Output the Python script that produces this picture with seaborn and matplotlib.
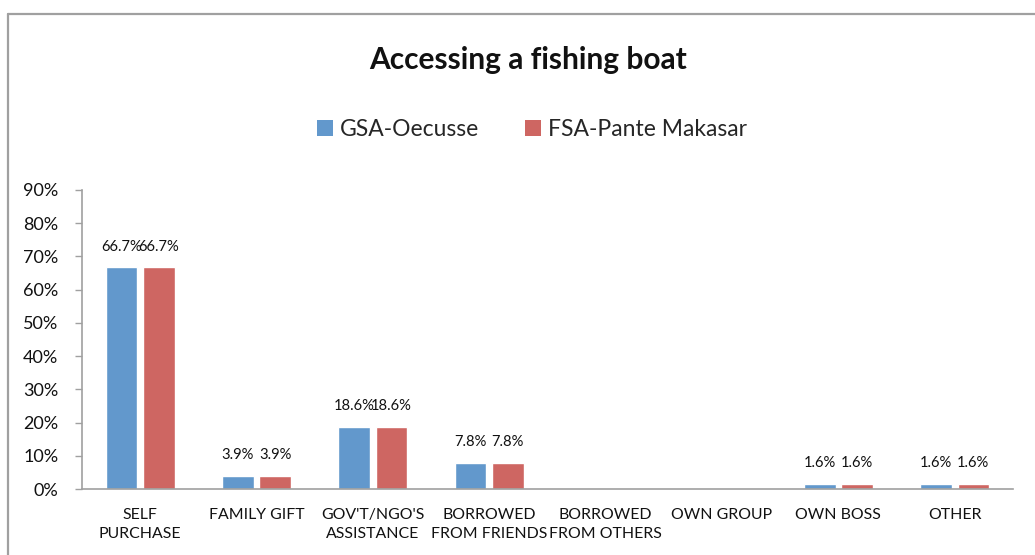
import matplotlib
matplotlib.use("Agg")
import matplotlib.pyplot as plt
from matplotlib.lines import Line2D
from matplotlib.patches import Patch
import seaborn as sns
import pandas as pd

categories = ["SELF\nPURCHASE", "FAMILY GIFT", "GOV'T/NGO'S\nASSISTANCE", "BORROWED\nFROM FRIENDS",
              "BORROWED\nFROM OTHERS", "OWN GROUP", "OWN BOSS", "OTHER"]
gsa_oecusse = [66.7, 3.9, 18.6, 7.8, 0.0, 0.0, 1.6, 1.6]
fsa_pante_makasar = [66.7, 3.9, 18.6, 7.8, 0.0, 0.0, 1.6, 1.6]
series_names = ["GSA-Oecusse", "FSA-Pante Makasar"]
colors = ["#6298CC", "#CE6662"]
y_ticks = [0, 10, 20, 30, 40, 50, 60, 70, 80, 90]

sns.set_theme(style="white")
plt.rcParams["font.family"] = ["Lato", "DejaVu Sans"]

df = pd.DataFrame({
    "category": categories * 2,
    "value": gsa_oecusse + fsa_pante_makasar,
    "series": [series_names[0]] * len(categories) + [series_names[1]] * len(categories),
})

fig = plt.figure(figsize=(10.35, 5.55), dpi=100)
ax = fig.add_axes([0.0792, 0.1189, 0.8995, 0.5388])

sns.barplot(data=df, x="category", y="value", hue="series", order=categories,
            hue_order=series_names, palette=colors, width=0.64, gap=0.15,
            saturation=1, ax=ax, legend=False, errorbar=None)

for container in ax.containers:
    labels = [f"{v:.1f}%" if v > 0 else "" for v in container.datavalues]
    ax.bar_label(container, labels=labels, padding=10, fontsize=10.6, color="#111111")

ax.set_ylim(0, 90)
ax.set_xlim(-0.5, len(categories) - 0.5)
ax.set_yticks(y_ticks)
ax.set_yticklabels([f"{t}%" for t in y_ticks], fontsize=13, color="#111111")
ax.tick_params(axis="x", labelsize=11.4, colors="#111111", length=0, pad=14)
ax.tick_params(axis="y", length=5, width=1, color="#A0A0A0", direction="out", pad=12, left=True)
for lbl in ax.get_xticklabels():
    lbl.set_linespacing(1.45)
ax.set_xlabel("")
ax.set_ylabel("")
for side in ["top", "right"]:
    ax.spines[side].set_visible(False)
for side in ["left", "bottom"]:
    ax.spines[side].set_color("#A0A0A0")
    ax.spines[side].set_linewidth(1.2)

fig.text(0.5106, 0.892, "Accessing a fishing boat", ha="center", va="center",
         fontsize=21.5, fontweight="bold", color="#111111")

handles = [Patch(facecolor=c, edgecolor="none") for c in colors]
fig.legend(handles, series_names, loc="center", bbox_to_anchor=(0.514, 0.766),
           ncol=2, frameon=False, fontsize=16.5, handlelength=0.7, handleheight=0.7,
           handletextpad=0.3, columnspacing=2.0)

# outer chart frame (left and top edges)
frame_color = "#A0A0A0"
x0 = 7.5 / 1035
y0 = 1 - 13.5 / 555
fig.add_artist(Line2D([x0, 1.0], [y0, y0], color=frame_color, lw=1.6, transform=fig.transFigure))
fig.add_artist(Line2D([x0, x0], [0.0, y0], color=frame_color, lw=1.6, transform=fig.transFigure))

fig.savefig("out.png", dpi=100)
